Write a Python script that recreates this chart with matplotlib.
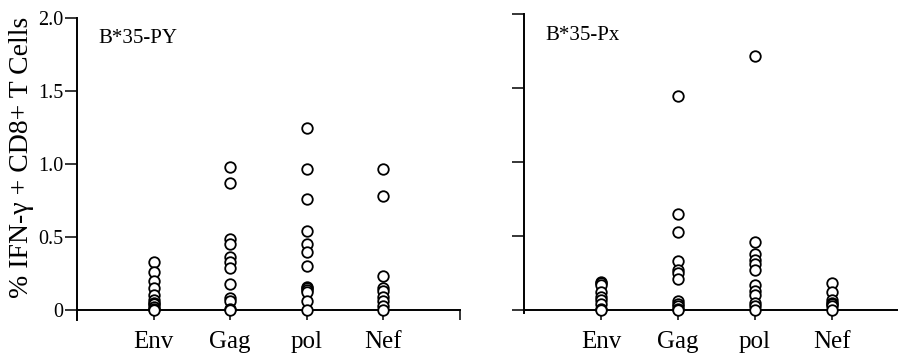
import numpy as np
import matplotlib
matplotlib.use('Agg')
import matplotlib.pyplot as plt

plt.rcParams['font.family'] = ['Liberation Serif', 'DejaVu Serif']

cats = ['Env', 'Gag', 'pol', 'Nef']

# B*35-PY panel
py_env = [0.33, 0.26, 0.20, 0.15, 0.10, 0.07, 0.05, 0.04, 0.02, 0.01, 0.0]
py_gag = [0.98, 0.87, 0.49, 0.45, 0.36, 0.33, 0.29, 0.18, 0.08, 0.06, 0.01, 0.0]
py_pol = [1.25, 0.97, 0.76, 0.54, 0.45, 0.40, 0.30, 0.16, 0.15, 0.14, 0.12, 0.06, 0.0]
py_nef = [0.97, 0.78, 0.23, 0.15, 0.13, 0.09, 0.06, 0.03, 0.0]

# B*35-Px panel
px_env = [0.19, 0.18, 0.17, 0.12, 0.09, 0.07, 0.04, 0.01, 0.0]
px_gag = [1.45, 0.65, 0.53, 0.33, 0.27, 0.25, 0.21, 0.06, 0.04, 0.03, 0.01, 0.0]
px_pol = [1.72, 0.46, 0.38, 0.34, 0.31, 0.27, 0.17, 0.13, 0.10, 0.05, 0.03, 0.0]
px_nef = [0.18, 0.12, 0.07, 0.05, 0.04, 0.03, 0.0]

W, H = 898, 356
fig = plt.figure(figsize=(W / 100, H / 100), dpi=100)

ax1 = fig.add_axes([77 / W, (H - 320) / H, 383 / W, (320 - 18.3) / H])
ax2 = fig.add_axes([524 / W, (H - 313) / H, 385 / W, (313 - 14.3) / H])


def draw(ax, groups, title, ymin, show_ylabels):
    for i, vals in enumerate(groups):
        ax.plot(np.full(len(vals), i + 1), vals, 'o', ms=7.6, mfc='white',
                mec='black', mew=1.3, clip_on=False, zorder=5)
    ax.set_xlim(0, 5)
    ax.set_ylim(ymin, 2.0)
    ax.spines['top'].set_visible(False)
    ax.spines['right'].set_visible(False)
    ax.spines['bottom'].set_position(('data', 0))
    ax.spines['left'].set_linewidth(1.4)
    ax.spines['bottom'].set_linewidth(1.4)
    ax.set_xticks([1, 2, 3, 4, 5])
    ax.set_xticklabels(cats + [''], fontsize=18)
    ax.tick_params(axis='x', direction='out', length=7, width=1.1, pad=8)
    ax.set_yticks([0, 0.5, 1.0, 1.5, 2.0])
    if show_ylabels:
        ax.set_yticklabels(['0', '0.5', '1.0', '1.5', '2.0'], fontsize=14.5)
    else:
        ax.set_yticklabels([])
    ax.tick_params(axis='y', direction='out', length=9, width=1.1, pad=1)
    ax.text(0.28, 1.86, title, fontsize=15, va='center', ha='left')


draw(ax1, [py_env, py_gag, py_pol, py_nef], 'B*35-PY', -0.0686, True)
draw(ax2, [px_env, px_gag, px_pol, px_nef], 'B*35-Px', -0.02, False)

fig.text(22 / W, 1 - 157 / H, '% IFN-\u03b3 + CD8+ T Cells', rotation=90,
         fontsize=20, ha='center', va='center')

fig.savefig('out.png', dpi=100)
